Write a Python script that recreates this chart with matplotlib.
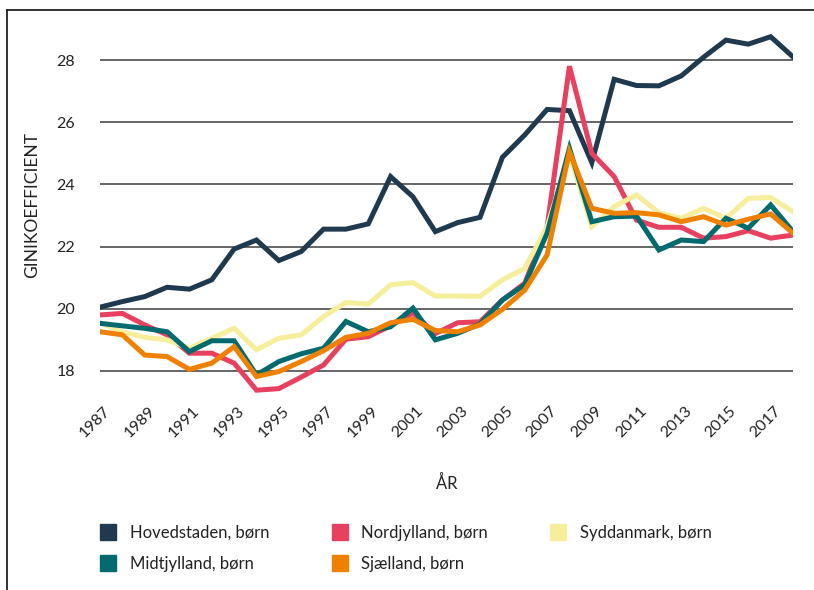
import numpy as np
import matplotlib.pyplot as plt
from matplotlib.lines import Line2D
from matplotlib.transforms import ScaledTranslation

plt.rcParams['font.family'] = ['Lato', 'DejaVu Sans']

years = list(range(1987, 2019))

hovedstaden = [20.05, 20.23, 20.39, 20.69, 20.63, 20.93, 21.92, 22.21, 21.55, 21.84,
               22.56, 22.56, 22.73, 24.25, 23.60, 22.48, 22.77, 22.94, 24.87, 25.59,
               26.41, 26.37, 24.70, 27.38, 27.18, 27.17, 27.49, 28.09, 28.64, 28.51,
               28.75, 28.10]
nordjylland = [19.80, 19.85, 19.48, 19.16, 18.57, 18.57, 18.25, 17.38, 17.43, 17.80,
               18.19, 19.02, 19.10, 19.45, 19.86, 19.20, 19.55, 19.58, 20.28, 20.82,
               22.64, 27.80, 25.00, 24.25, 22.85, 22.62, 22.62, 22.27, 22.32, 22.51,
               22.27, 22.37]
syddanmark = [19.55, 19.26, 19.08, 19.00, 18.73, 19.05, 19.37, 18.68, 19.05, 19.16,
              19.75, 20.20, 20.15, 20.77, 20.84, 20.41, 20.41, 20.40, 20.93, 21.30,
              22.64, 24.95, 22.64, 23.29, 23.66, 23.09, 22.91, 23.23, 22.91, 23.55,
              23.58, 23.12]
midtjylland = [19.53, 19.45, 19.37, 19.26, 18.62, 18.97, 18.97, 17.87, 18.30, 18.55,
               18.73, 19.59, 19.26, 19.42, 20.02, 19.00, 19.21, 19.51, 20.28, 20.77,
               22.43, 25.16, 22.80, 22.96, 22.98, 21.89, 22.21, 22.16, 22.91, 22.59,
               23.34, 22.48]
sjaelland = [19.26, 19.16, 18.51, 18.46, 18.05, 18.25, 18.78, 17.82, 17.98, 18.30,
             18.65, 19.08, 19.21, 19.55, 19.66, 19.30, 19.26, 19.48, 19.98, 20.60,
             21.73, 25.05, 23.23, 23.07, 23.09, 23.02, 22.80, 22.96, 22.69, 22.88,
             23.05, 22.43]

series = [
    ("Hovedstaden, børn", hovedstaden, "#1f3a4f"),
    ("Nordjylland, børn", nordjylland, "#e8405f"),
    ("Syddanmark, børn", syddanmark, "#f7ee9b"),
    ("Midtjylland, børn", midtjylland, "#006a6e"),
    ("Sjælland, børn", sjaelland, "#f08100"),
]

fig = plt.figure(figsize=(8.14, 5.90), dpi=100)
ax = fig.add_axes([100 / 814, 1 - 402 / 590, 693 / 814, (402 - 16.5) / 590])

for y in range(18, 30, 2):
    ax.axhline(y, color="#5a5a5a", lw=1.3, zorder=1)

handles = {}
for name, vals, col in series:
    ax.plot(years, vals, color=col, lw=3.6, solid_joinstyle="miter", zorder=3)
    handles[name] = Line2D([], [], marker="s", color=col, ls="none", markersize=11)

ax.set_xlim(1987, 2018)
ax.set_ylim(17.0, 29.4)
ax.set_yticks(range(18, 30, 2))
ax.set_xticks(range(1987, 2018, 2))
ax.tick_params(length=0, labelsize=11.5, colors="#222222")
ax.tick_params(axis="y", pad=18)
for s in ax.spines.values():
    s.set_visible(False)

off = ScaledTranslation(8 / 100, -2 / 100, fig.dpi_scale_trans)
for lab in ax.get_xticklabels():
    lab.set_rotation(45)
    lab.set_ha("right")
    lab.set_va("center")
    lab.set_rotation_mode("anchor")
    lab.set_transform(lab.get_transform() + off)

fig.text(32 / 814, 1 - 205 / 590, "GINIKOEFFICIENT", rotation=90, ha="center",
         va="center", fontsize=12.5, color="#222222")
fig.text(447 / 814, 1 - 483 / 590, "ÅR", ha="center", va="center",
         fontsize=12, color="#222222")

order = ["Hovedstaden, børn", "Midtjylland, børn", "Nordjylland, børn",
         "Sjælland, børn", "Syddanmark, børn"]
fig.legend([handles[n] for n in order], order, loc="upper left",
           bbox_to_anchor=(85 / 814, 1 - 510 / 590), ncol=3, frameon=False,
           fontsize=12, handlelength=1.0, handletextpad=0.8, columnspacing=3.7,
           labelspacing=0.9, labelcolor="#222222")

# frame round the figure (left and top)
fig.add_artist(Line2D([7 / 814, 7 / 814], [0, 1 - 10 / 590], color="#222222",
                      lw=1.3, transform=fig.transFigure))
fig.add_artist(Line2D([7 / 814, 1], [1 - 10 / 590, 1 - 10 / 590], color="#222222",
                      lw=1.3, transform=fig.transFigure))

fig.savefig("out.png", dpi=100)
